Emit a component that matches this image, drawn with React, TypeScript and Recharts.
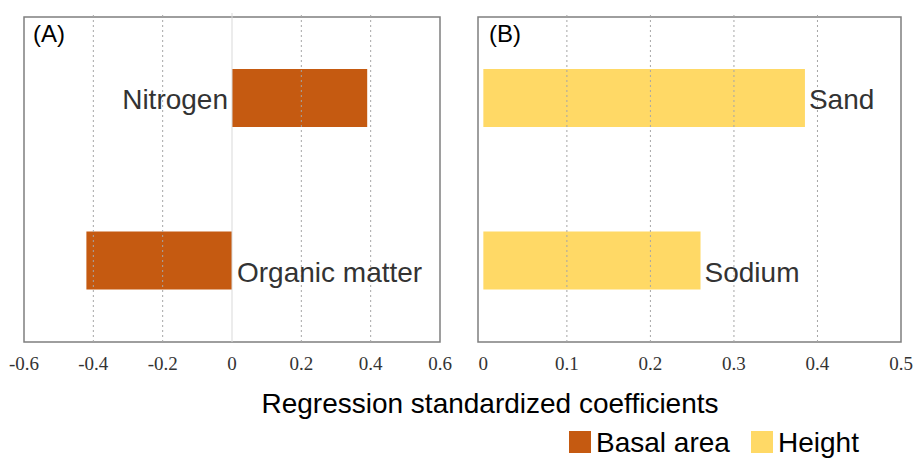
import { BarChart, Bar, XAxis, YAxis, ReferenceLine, ReferenceArea, LabelList } from 'recharts';

// Panel A: basal area
const categoriesA = ['Nitrogen', 'Organic matter'];
const basalArea = [0.39, -0.42];
const ticksA = [-0.6, -0.4, -0.2, 0, 0.2, 0.4, 0.6];
const domainA: [number, number] = [-0.6, 0.6];

// Panel B: height
const categoriesB = ['Sand', 'Sodium'];
const heightValues = [0.385, 0.26];
const ticksB = [0, 0.1, 0.2, 0.3, 0.4, 0.5];
const domainB: [number, number] = [-0.0064, 0.5];

const legendItems = [
  { name: 'Basal area', color: '#C55A11' },
  { name: 'Height', color: '#FFD966' },
];

const axisTitle = 'Regression standardized coefficients';

const dataA = categoriesA.map((name, i) => ({ name, value: basalArea[i] }));
const dataB = categoriesB.map((name, i) => ({ name, value: heightValues[i] }));

const SANS = '"Liberation Sans", Arial, sans-serif';
const SERIF = '"Liberation Serif", "Times New Roman", serif';
const TEXT = '#333333';
const GRID = '#a6a6a6';
const FRAME = '#7f7f7f';

// label sits a bit lower on the second row, as in the source figure
const rowShift = [11, 21];

function labelA(props: any) {
  const { x, y, width, height, value } = props;
  const i = categoriesA.indexOf(value);
  const left = Math.min(x, x + width);
  const right = Math.max(x, x + width);
  const positive = basalArea[i] >= 0;
  const cy = y + height / 2 + rowShift[i];
  return (
    <text
      x={positive ? left - 4 : right + 5}
      y={cy}
      textAnchor={positive ? 'end' : 'start'}
      fontFamily={SANS}
      fontSize={28}
      fill={TEXT}
    >
      {value}
    </text>
  );
}

function labelB(props: any) {
  const { x, y, width, height, value } = props;
  const i = categoriesB.indexOf(value);
  const right = Math.max(x, x + width);
  return (
    <text x={right + 4} y={y + height / 2 + rowShift[i]} textAnchor="start" fontFamily={SANS} fontSize={28} fill={TEXT}>
      {value}
    </text>
  );
}

const tickStyle = { fontFamily: SERIF, fontSize: 19, fill: TEXT };

export default function App() {
  return (
    <div style={{ position: 'absolute', left: 0, top: 0, width: 914, height: 459, background: '#fff' }}>
      <div style={{ position: 'absolute', left: 0, top: 0 }}>
        <BarChart
          width={460}
          height={380}
          data={dataA}
          layout="vertical"
          margin={{ top: 13, right: 20, left: 24, bottom: 8 }}
          barCategoryGap={0}
        >
          <XAxis
            type="number"
            domain={domainA}
            ticks={ticksA}
            height={30}
            axisLine={false}
            tickLine={false}
            tickSize={0}
            tickMargin={15}
            tick={tickStyle}
            interval={0}
          />
          <YAxis type="category" dataKey="name" hide padding={{ top: 4, bottom: 0 }} />
          {ticksA
            .filter((t) => t !== 0 && t !== domainA[0] && t !== domainA[1])
            .map((t) => (
              <ReferenceLine key={t} x={t} stroke={GRID} strokeDasharray="2 3" />
            ))}
          <ReferenceLine x={0} stroke="#d9d9d9" />
          <Bar dataKey="value" fill={legendItems[0].color} barSize={58} isAnimationActive={false}>
            <LabelList dataKey="name" content={labelA} />
          </Bar>
          <ReferenceArea x1={domainA[0]} x2={domainA[1]} fill="none" fillOpacity={0} stroke={FRAME} strokeWidth={1.5} />
        </BarChart>
      </div>
      <div style={{ position: 'absolute', left: 460, top: 0 }}>
        <BarChart
          width={454}
          height={380}
          data={dataB}
          layout="vertical"
          margin={{ top: 13, right: 13, left: 18, bottom: 8 }}
          barCategoryGap={0}
        >
          <XAxis
            type="number"
            domain={domainB}
            ticks={ticksB}
            height={30}
            axisLine={false}
            tickLine={false}
            tickSize={0}
            tickMargin={15}
            tick={tickStyle}
            interval={0}
          />
          <YAxis type="category" dataKey="name" hide padding={{ top: 4, bottom: 0 }} />
          {ticksB
            .filter((t) => t !== 0 && t !== domainB[1])
            .map((t) => (
              <ReferenceLine key={t} x={t} stroke={GRID} strokeDasharray="2 3" />
            ))}
          <Bar dataKey="value" fill={legendItems[1].color} barSize={58} isAnimationActive={false}>
            <LabelList dataKey="name" content={labelB} />
          </Bar>
          <ReferenceArea x1={domainB[0]} x2={domainB[1]} fill="none" fillOpacity={0} stroke={FRAME} strokeWidth={1.5} />
        </BarChart>
      </div>
      <svg width={914} height={459} style={{ position: 'absolute', left: 0, top: 0, pointerEvents: 'none' }}>
        <text x={33} y={41.5} fontFamily={SANS} fontSize={24} fill="#000">(A)</text>
        <text x={489} y={41.5} fontFamily={SANS} fontSize={24} fill="#000">(B)</text>
        <text x={490} y={413} textAnchor="middle" fontFamily={SANS} fontSize={28} fill="#000">
          {axisTitle}
        </text>
        {legendItems.map((item, i) => {
          const x0 = i === 0 ? 569 : 751;
          return (
            <g key={item.name}>
              <rect x={x0} y={431} width={22} height={22} fill={item.color} />
              <text x={x0 + 27} y={452} fontFamily={SANS} fontSize={28} fill="#000">
                {item.name}
              </text>
            </g>
          );
        })}
      </svg>
    </div>
  );
}
